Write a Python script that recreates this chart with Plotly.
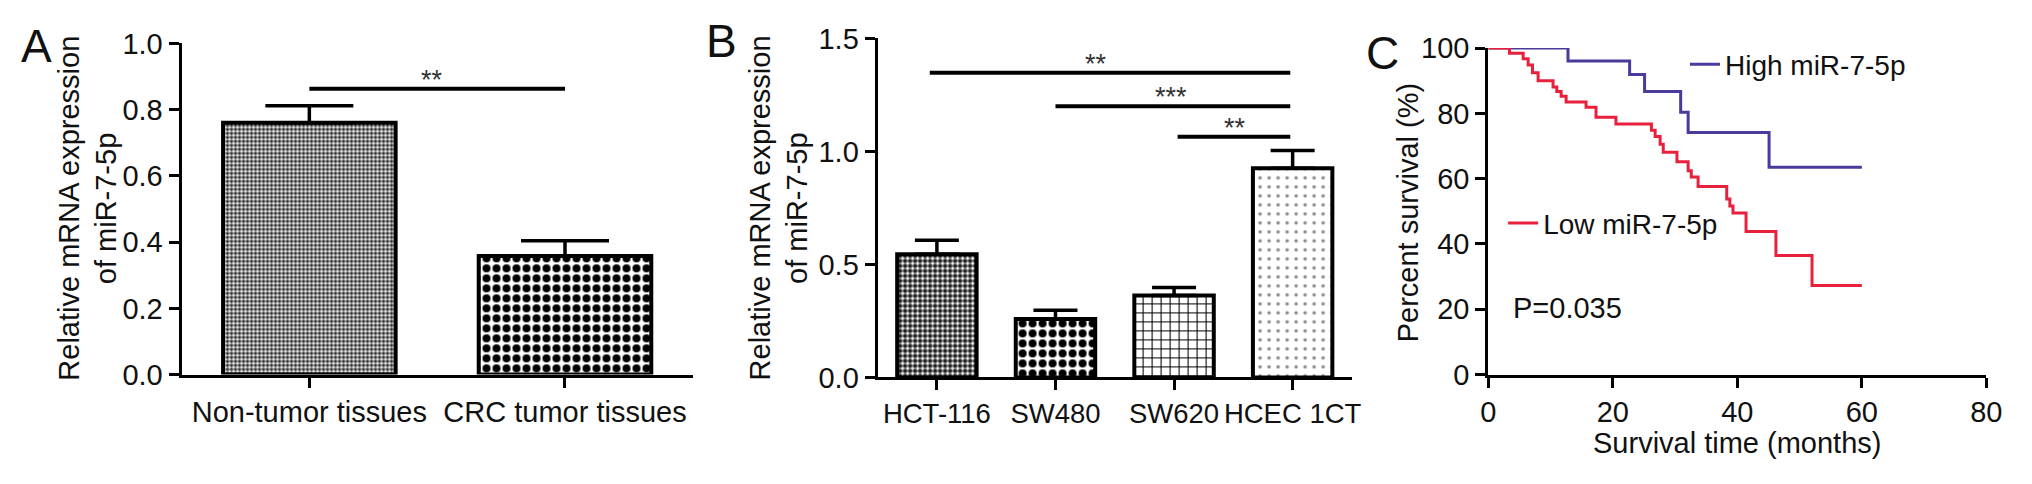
import plotly.graph_objects as go

# ---------------- data ----------------
cats_A = ["Non-tumor tissues", "CRC tumor tissues"]
vals_A = [0.76, 0.358]
err_A = [0.052, 0.046]

cats_B = ["HCT-116", "SW480", "SW620", "HCEC 1CT"]
vals_B = [0.545, 0.259, 0.362, 0.926]
err_B = [0.062, 0.038, 0.036, 0.078]

# significance bars (x in category index, y in data units)
sigA_x0 = [0]
sigA_x1 = [1]
sigA_y = [0.863]
sigA_text = ["**"]
sigA_tx = [0.48]

sigB_x0 = [-0.06, 1.0, 2.03]
sigB_x1 = [2.98, 2.98, 2.98]
sigB_y = [1.348, 1.2, 1.065]
sigB_text = ["**", "***", "**"]
sigB_tx = [1.34, 1.97, 2.51]

# Kaplan-Meier curves (months, percent survival)
high_t = [0, 12.8, 22.7, 25.1, 30.9, 32.1, 45.1, 60.0]
high_s = [100, 96.0, 91.9, 86.7, 80.3, 74.1, 63.5, 63.5]

low_t = [0, 3.4, 5.6, 6.4, 7.1, 8.0, 10.4, 11.0, 11.7, 12.5, 15.7, 17.3, 20.5,
         26.2, 26.8, 27.6, 28.1, 30.3, 32.1, 32.6, 33.7, 38.3, 38.8, 39.3, 41.4,
         46.2, 52.0, 60.0]
low_s = [100, 98.4, 96.7, 94.8, 92.4, 90.0, 88.1, 86.7, 85.2, 83.5, 81.9, 78.8, 76.7,
         74.8, 72.9, 70.5, 68.1, 65.2, 62.4, 60.5, 57.6, 53.8, 51.6, 49.5, 43.8,
         36.5, 27.3, 27.3]

p_text = "P=0.035"

# ---------------- layout helpers ----------------
W, H = 2032, 484
def px(x):
    return x / W
def py(y):
    return (H - y) / H

FONT = "Liberation Sans, Arial, Helvetica, sans-serif"
TXT = "#111111"
red = "#e8203c"
blue = "#4a3a9c"

fig = go.Figure()

# Panel A bars
fig.add_trace(go.Bar(
    x=cats_A, y=vals_A, xaxis="x", yaxis="y", width=0.675,
    marker=dict(color="white",
                line=dict(color="black", width=4),
                pattern=dict(shape=[".", "."], size=[4, 10], solidity=[0.6, 0.5],
                             fgcolor=["#2e2e2e", "black"], bgcolor="white",
                             fillmode="replace")),
    error_y=dict(type="data", array=err_A, arrayminus=[0] * len(err_A), symmetric=False,
                 color="black", thickness=3.5, width=44),
    showlegend=False, hoverinfo="skip"))

# Panel B bars
fig.add_trace(go.Bar(
    x=cats_B, y=vals_B, xaxis="x2", yaxis="y2", width=0.67,
    marker=dict(color="white",
                line=dict(color="black", width=4),
                pattern=dict(shape=[".", ".", "+", "."], size=[5, 10, 9, 9],
                             solidity=[0.62, 0.5, 0.22, 0.12],
                             fgcolor=["#222222", "black", "black", "#8a8a8a"],
                             bgcolor="white", fillmode="replace")),
    error_y=dict(type="data", array=err_B, arrayminus=[0] * len(err_B), symmetric=False,
                 color="black", thickness=3.5, width=22),
    showlegend=False, hoverinfo="skip"))

# Panel C survival curves
fig.add_trace(go.Scatter(x=high_t, y=high_s, xaxis="x3", yaxis="y3", mode="lines",
                         line=dict(color=blue, width=3, shape="hv"),
                         name="High miR-7-5p", legend="legend"))
fig.add_trace(go.Scatter(x=low_t, y=low_s, xaxis="x3", yaxis="y3", mode="lines",
                         line=dict(color=red, width=3, shape="hv"),
                         name="Low miR-7-5p", legend="legend2"))

axis_common = dict(showline=True, linecolor="black", linewidth=3, ticks="outside",
                   ticklen=10, tickwidth=3, tickcolor="black", showgrid=False,
                   zeroline=False, tickfont=dict(family=FONT, size=29, color=TXT),
                   fixedrange=True)

shapes = []
annotations = []

for x0, x1, y, t, tx in zip(sigA_x0, sigA_x1, sigA_y, sigA_text, sigA_tx):
    shapes.append(dict(type="line", xref="x", yref="y", x0=x0, x1=x1, y0=y, y1=y,
                       line=dict(color="black", width=4)))
    annotations.append(dict(xref="x", yref="y", x=tx, y=y, text=t, showarrow=False,
                            yanchor="bottom", yshift=-8,
                            font=dict(family=FONT, size=27, color="#333")))
for x0, x1, y, t, tx in zip(sigB_x0, sigB_x1, sigB_y, sigB_text, sigB_tx):
    shapes.append(dict(type="line", xref="x2", yref="y2", x0=x0, x1=x1, y0=y, y1=y,
                       line=dict(color="black", width=4)))
    annotations.append(dict(xref="x2", yref="y2", x=tx, y=y, text=t, showarrow=False,
                            yanchor="bottom", yshift=-8,
                            font=dict(family=FONT, size=27, color="#333")))

def ptext(x, y, text, size=29, angle=0, xanchor="center"):
    annotations.append(dict(xref="paper", yref="paper", x=px(x), y=py(y), text=text,
                            showarrow=False, textangle=angle, xanchor=xanchor,
                            yanchor="middle", font=dict(family=FONT, size=size, color=TXT)))

# panel letters
ptext(29, 32, "A", size=46)
ptext(722, 27, "B", size=46)
ptext(1391, 40, "C", size=46)

# y-axis titles
ptext(62, 206, "Relative mRNA expression", angle=-90)
ptext(100, 206, "of miR-7-5p", angle=-90)
ptext(761, 206, "Relative mRNA expression", angle=-90)
ptext(799, 206, "of miR-7-5p", angle=-90)
ptext(1417, 211, "Percent survival (%)", angle=-90)
ptext(1750, 457, "Survival time (months)")

annotations.append(dict(xref="x3", yref="y3", x=3.7, y=20.3, text=p_text, showarrow=False,
                        xanchor="left", yanchor="middle",
                        font=dict(family=FONT, size=29, color=TXT)))

fig.update_layout(
    width=W, height=H, margin=dict(l=0, r=0, t=0, b=0),
    paper_bgcolor="white", plot_bgcolor="white", bargap=0,
    font=dict(family=FONT, size=28, color=TXT),
    xaxis=dict(domain=[px(175.6), px(693)], anchor="y", type="category",
               range=[-0.5, 1.5], tickangle=0, **axis_common),
    yaxis=dict(domain=[py(384), py(29.3)], anchor="x", range=[0, 1.0], dtick=0.2,
               tickformat=".1f", **axis_common),
    xaxis2=dict(domain=[px(880), px(1360)], anchor="y2", type="category",
                range=[-0.5, 3.5], tickangle=0, **axis_common),
    yaxis2=dict(domain=[py(387), py(24)], anchor="x2", range=[0, 1.5], dtick=0.5,
                tickformat=".1f", **axis_common),
    xaxis3=dict(domain=[px(1498), px(2002)], anchor="y3", range=[0, 80], dtick=20,
                **axis_common),
    yaxis3=dict(domain=[py(384), py(34.3)], anchor="x3", range=[0, 100], dtick=20,
                **axis_common),
    legend=dict(x=px(1697), y=py(52), xanchor="left", yanchor="middle",
                bgcolor="rgba(0,0,0,0)", font=dict(family=FONT, size=28, color=TXT)),
    legend2=dict(x=px(1513), y=py(222), xanchor="left", yanchor="middle",
                 bgcolor="rgba(0,0,0,0)", font=dict(family=FONT, size=28, color=TXT)),
    shapes=shapes, annotations=annotations,
)
fig.update_xaxes(tickfont=dict(size=27.5), selector=dict(anchor="y2"))

fig.write_html("out.html",
               config={"displayModeBar": False, "staticPlot": True},
               post_script="document.body.style.margin='0';document.body.style.overflow='hidden';")
